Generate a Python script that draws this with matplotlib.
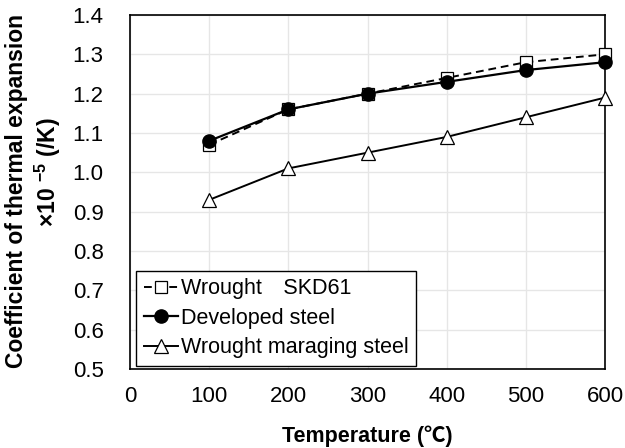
import matplotlib
matplotlib.use("Agg")
import matplotlib.pyplot as plt

plt.rcParams['font.family'] = ['Liberation Sans', 'Noto Sans CJK JP', 'DejaVu Sans']
plt.rcParams['mathtext.fontset'] = 'custom'
plt.rcParams['mathtext.rm'] = 'Liberation Sans:bold'
plt.rcParams['mathtext.it'] = 'Liberation Sans:bold'
plt.rcParams['mathtext.bf'] = 'Liberation Sans:bold'

temps = [100, 200, 300, 400, 500, 600]
skd61 = [1.07, 1.16, 1.20, 1.24, 1.28, 1.30]
developed = [1.08, 1.16, 1.20, 1.23, 1.26, 1.28]
maraging = [0.93, 1.01, 1.05, 1.09, 1.14, 1.19]
xticks = [0, 100, 200, 300, 400, 500, 600]
yticks = [0.5, 0.6, 0.7, 0.8, 0.9, 1.0, 1.1, 1.2, 1.3, 1.4]

fig = plt.figure(figsize=(6.25, 4.48), dpi=100)
ax = fig.add_axes([130/625, 1-369/448, (605-130)/625, (369-15)/448])

ax.plot(temps, skd61, ls=(0, (4, 2.5)), color='black', lw=1.4, marker='s',
        mfc='white', mec='black', ms=8, mew=0.9, label='Wrought\u3000SKD61',
        zorder=3, clip_on=False)
ax.plot(temps, developed, ls='-', color='black', lw=1.6, marker='o',
        mfc='black', mec='black', ms=9.5, label='Developed steel',
        zorder=4, clip_on=False)
ax.plot(temps, maraging, ls='-', color='black', lw=1.4, marker='^',
        mfc='white', mec='black', ms=9.5, mew=0.9, label='Wrought maraging steel',
        zorder=3, clip_on=False)

ax.set_xlim(0, 600)
ax.set_ylim(0.5, 1.4)
ax.set_xticks(xticks)
ax.set_yticks(yticks)
ax.set_yticklabels([f"{v:.1f}" for v in yticks])
ax.tick_params(axis='both', length=0, labelsize=16)
ax.tick_params(axis='x', pad=12)
ax.tick_params(axis='y', pad=19)
ax.grid(True, color='#e6e6e6', lw=1)
ax.set_axisbelow(True)
for s in ax.spines.values():
    s.set_color('black')
    s.set_linewidth(1.2)

fig.text(367/625, 1-436/448, 'Temperature (\u2103)', ha='center', va='center',
         fontsize=15.5, fontweight='bold')
fig.text(17/625, 1-191/448, 'Coefficient of thermal expansion', rotation=90,
         ha='center', va='center', fontsize=16.5, fontweight='bold')
fig.text(48/625, 1-172/448, r'×10 $^{-5}$ (/K)', rotation=90,
         ha='center', va='center', fontsize=16.5, fontweight='bold')

leg = ax.legend(loc='lower left', bbox_to_anchor=(0.0126, 0.0085), fontsize=15.5,
                handlelength=1.6, handletextpad=0.15, borderpad=0.35,
                labelspacing=0.4, fancybox=False, framealpha=1,
                edgecolor='black', borderaxespad=0)
leg.get_frame().set_linewidth(1.0)

fig.savefig('out.png', dpi=100)
